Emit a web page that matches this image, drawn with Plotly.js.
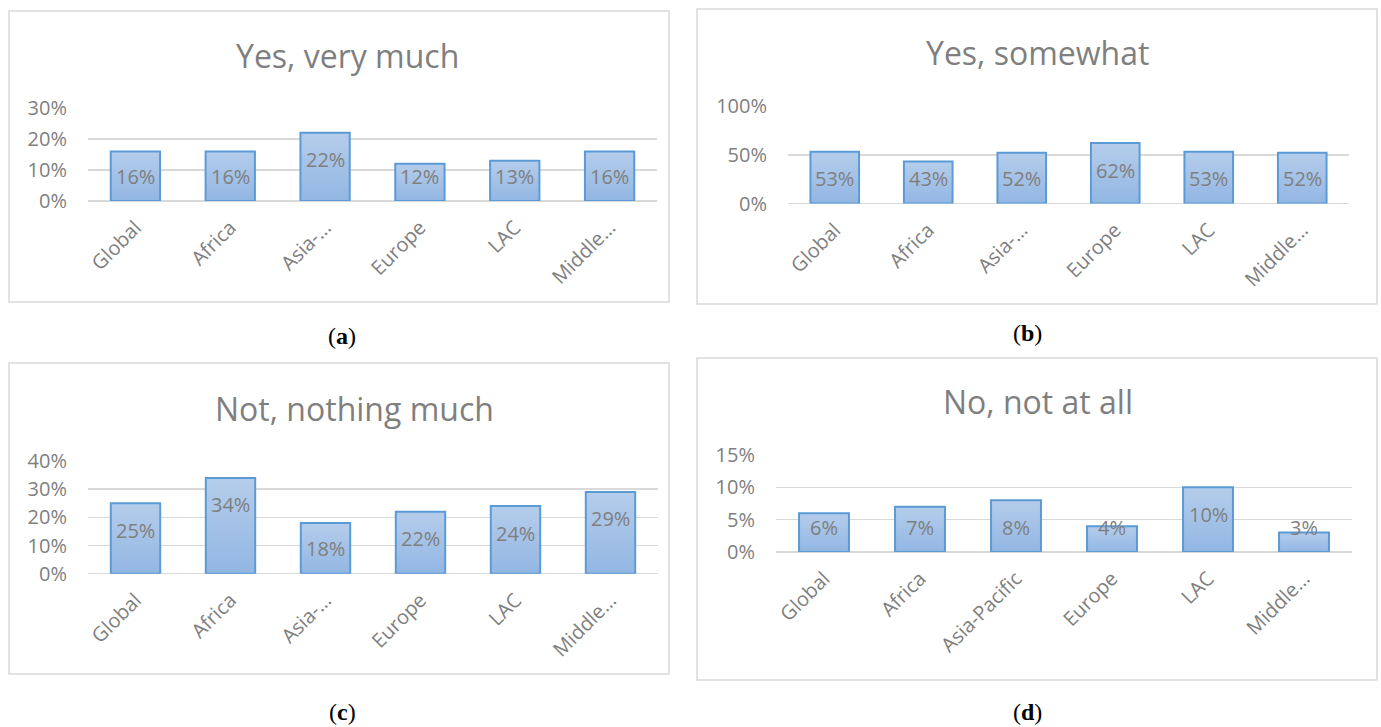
<!DOCTYPE html>
<html>
<head>
<meta charset="utf-8">
<script src="https://cdn.plot.ly/plotly-3.0.1.min.js"></script>
<style>
  html, body { margin: 0; padding: 0; background: #ffffff; }
  #chart { width: 1381px; height: 727px; }
</style>
</head>
<body>
<div id="chart"></div>
<script>
// ---- data ----
const categories = ["Global", "Africa", "Asia-Pacific", "Europe", "LAC", "Middle East"];
const tickShort = ["Global", "Africa", "Asia-…", "Europe", "LAC", "Middle…"];
const tickD = ["Global", "Africa", "Asia-Pacific", "Europe", "LAC", "Middle…"];
const yesVeryMuch = [0.16, 0.16, 0.22, 0.12, 0.13, 0.16];
const yesSomewhat = [0.53, 0.43, 0.52, 0.62, 0.53, 0.52];
const notNothingMuch = [0.25, 0.34, 0.18, 0.22, 0.24, 0.29];
const noNotAtAll = [0.06, 0.07, 0.08, 0.04, 0.10, 0.03];
const titles = ["Yes, very much", "Yes, somewhat", "Not, nothing much", "No, not at all"];
const panelLabels = ["a", "b", "c", "d"];

// ---- layout geometry (pixels) ----
const W = 1381, H = 727;
const px = v => v / W;
const py = v => 1 - v / H;
const grey = "#7f7f7f";
const font = "Open Sans, Noto Sans, sans-serif";

const panels = [
  { vals: yesVeryMuch, ticks: tickShort, title: titles[0], lab: panelLabels[0],
    box: [9, 11, 669, 302], plot: [88, 108, 657, 201], range: 0.3, dtick: 0.1,
    t: [347, 55], l: [342, 336] },
  { vals: yesSomewhat, ticks: tickShort, title: titles[1], lab: panelLabels[1],
    box: [697, 9, 1377, 304], plot: [788, 106, 1349, 203.5], range: 1.0, dtick: 0.5,
    t: [1037, 52], l: [1027, 333] },
  { vals: notNothingMuch, ticks: tickShort, title: titles[2], lab: panelLabels[2],
    box: [9, 363, 669, 674], plot: [88, 461, 658, 573.7], range: 0.4, dtick: 0.1,
    t: [354, 408], l: [342, 712] },
  { vals: noNotAtAll, ticks: tickD, title: titles[3], lab: panelLabels[3],
    box: [697, 358, 1377, 680], plot: [776, 455, 1352, 552], range: 0.15, dtick: 0.05,
    t: [1038, 401], l: [1027, 712] }
];

const data = [];
const layout = {
  width: W, height: H,
  margin: { l: 0, r: 0, t: 0, b: 0 },
  paper_bgcolor: "#ffffff", plot_bgcolor: "rgba(0,0,0,0)",
  showlegend: false,
  font: { family: font, color: grey, size: 20 },
  shapes: [], annotations: []
};

panels.forEach((p, i) => {
  const n = i === 0 ? "" : String(i + 1);
  const xa = "x" + n, ya = "y" + n;
  data.push({
    type: "bar", x: categories, y: p.vals, xaxis: xa, yaxis: ya,
    marker: { color: "#a3c1e7", line: { color: "#5b9bd5", width: 2 } },
    hoverinfo: "none"
  });
  layout["xaxis" + n] = {
    domain: [px(p.plot[0]), px(p.plot[2])], anchor: ya,
    tickmode: "array", tickvals: categories, ticktext: p.ticks,
    tickangle: -45, showgrid: false, zeroline: false, showline: false,
    ticks: "", ticklabelstandoff: 10,
    tickfont: { family: font, size: 20, color: grey }, fixedrange: true
  };
  layout["yaxis" + n] = {
    domain: [py(p.plot[3]), py(p.plot[1])], anchor: xa,
    range: [0, p.range], dtick: p.dtick, tickformat: ".0%",
    showgrid: true, gridcolor: "#d9d9d9", gridwidth: 1.5,
    zeroline: true, zerolinecolor: "#d9d9d9", zerolinewidth: 1.5,
    showline: false, ticks: "", ticklabelstandoff: 20,
    tickfont: { family: font, size: 20, color: grey }, fixedrange: true
  };
  layout.bargap = 0.48;
  // panel border
  layout.shapes.push({
    type: "rect", xref: "paper", yref: "paper",
    x0: px(p.box[0]), x1: px(p.box[2]), y0: py(p.box[3]), y1: py(p.box[1]),
    line: { color: "#d9d9d9", width: 1.5 }, fillcolor: "rgba(0,0,0,0)", layer: "below"
  });
  // title
  layout.annotations.push({
    xref: "paper", yref: "paper", x: px(p.t[0]), y: py(p.t[1]),
    xanchor: "center", yanchor: "middle", showarrow: false,
    text: p.title, font: { family: font, size: 32, color: grey }
  });
  // panel label
  layout.annotations.push({
    xref: "paper", yref: "paper", x: px(p.l[0]), y: py(p.l[1]),
    xanchor: "center", yanchor: "middle", showarrow: false,
    text: "(<b>" + p.lab + "</b>)",
    font: { family: "Liberation Serif, DejaVu Serif, serif", size: 24, color: "#000000" }
  });
  // data labels: "inside end", clamped above the axis (Excel style)
  const plotH = p.plot[3] - p.plot[1];
  const pxPerUnit = plotH / p.range;
  p.vals.forEach((v, k) => {
    const cPx = Math.max(v * pxPerUnit - 27, 25);
    layout.annotations.push({
      xref: xa, yref: ya, x: categories[k], y: cPx / pxPerUnit,
      xanchor: "center", yanchor: "middle", showarrow: false,
      text: Math.round(v * 100) + "%", font: { family: font, size: 20, color: grey }
    });
  });
});

Plotly.newPlot("chart", data, layout, { displayModeBar: false, staticPlot: true }).then(gd => {
  const svg = gd.querySelector(".main-svg");
  const ns = "http://www.w3.org/2000/svg";
  let defs = svg.querySelector("defs");
  if (!defs) { defs = document.createElementNS(ns, "defs"); svg.insertBefore(defs, svg.firstChild); }
  const g = document.createElementNS(ns, "linearGradient");
  g.setAttribute("id", "barGrad");
  g.setAttribute("x1", "0"); g.setAttribute("y1", "0");
  g.setAttribute("x2", "0"); g.setAttribute("y2", "1");
  [["0", "#b5cdeb"], ["1", "#92b6e3"]].forEach(([o, c]) => {
    const s = document.createElementNS(ns, "stop");
    s.setAttribute("offset", o); s.setAttribute("stop-color", c);
    g.appendChild(s);
  });
  defs.appendChild(g);
  gd.querySelectorAll(".bars .point path").forEach(el => {
    el.style.fill = "url(#barGrad)";
  });
});
</script>
</body>
</html>
